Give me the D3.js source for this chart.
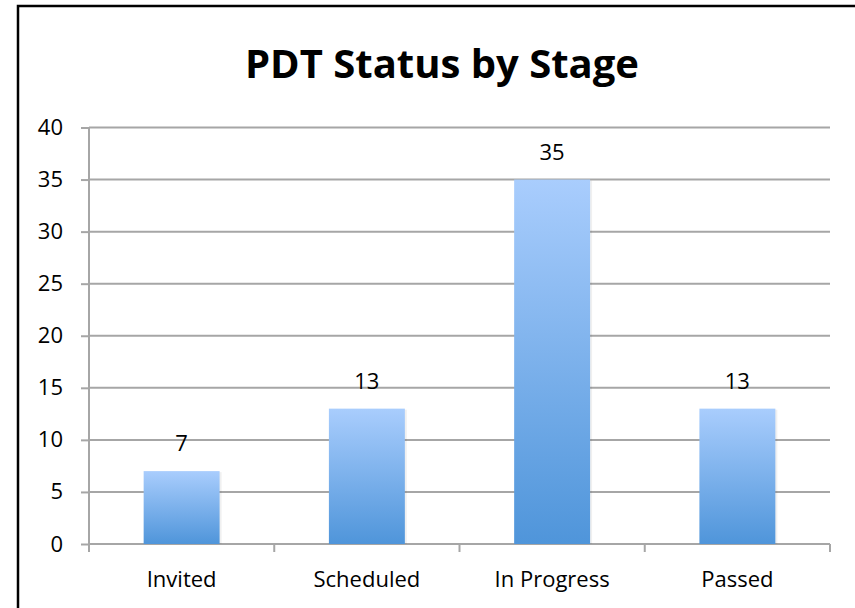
<!DOCTYPE html>
<html lang="en">
<head>
<meta charset="utf-8">
<title>PDT Status by Stage</title>
<script src="https://d3js.org/d3.v7.min.js"></script>
<style>
  body { margin: 0; background: #fff; }
  text { font-family: "Open Sans", sans-serif; fill: #000; }
  .grid line { stroke: #a6a6a6; stroke-width: 2px; }
  .axis path, .axis line { stroke: #a6a6a6; stroke-width: 2px; }
</style>
</head>
<body>
<div id="chart"></div>
<script>
// chart data
var stages = ["Invited", "Scheduled", "In Progress", "Passed"];
var counts = [7, 13, 35, 13];
var yTicks = [0, 5, 10, 15, 20, 25, 30, 35, 40];

var W = 855, H = 608;
var margin = {top: 127.5, right: 25, bottom: 64, left: 89};
var width = W - margin.left - margin.right,
    height = H - margin.top - margin.bottom;

var svg = d3.select("#chart").append("svg")
    .attr("width", W)
    .attr("height", H);

// gradient for the bars
var grad = svg.append("defs").append("linearGradient")
    .attr("id", "barGrad")
    .attr("x1", 0).attr("y1", 0).attr("x2", 0).attr("y2", 1);
grad.append("stop").attr("offset", "0%").attr("stop-color", "#a9cdfd");
grad.append("stop").attr("offset", "100%").attr("stop-color", "#4f95da");

// outer frame (only top and left show in the picture)
svg.append("path")
    .attr("d", "M" + W + ",6H18V" + H)
    .attr("fill", "none")
    .attr("stroke", "#000")
    .attr("stroke-width", 2.5);

svg.append("text")
    .attr("x", 442)
    .attr("y", 78)
    .attr("text-anchor", "middle")
    .style("font-size", "40px")
    .style("font-weight", "bold")
    .text("PDT Status by Stage");

var g = svg.append("g")
    .attr("transform", "translate(" + margin.left + "," + margin.top + ")");

var x = d3.scaleBand().domain(stages).range([0, width]).paddingInner(0.59).paddingOuter(0.295);
var y = d3.scaleLinear().domain([0, 40]).range([height, 0]);

// horizontal gridlines
g.append("g").attr("class", "grid")
  .selectAll("line")
  .data(yTicks.slice(1))
  .enter().append("line")
    .attr("x1", 0).attr("x2", width)
    .attr("y1", function(d) { return y(d); })
    .attr("y2", function(d) { return y(d); });

// y axis
var yAxis = g.append("g").attr("class", "axis")
    .call(d3.axisLeft(y).tickValues(yTicks).tickSize(8).tickPadding(18).tickSizeOuter(0));
yAxis.selectAll("text").style("font-size", "22px");
yAxis.select(".domain").attr("d", "M0," + height + "V0");

// x axis with ticks between categories
var xAxis = g.append("g").attr("class", "axis")
    .attr("transform", "translate(0," + height + ")")
    .call(d3.axisBottom(x).tickSize(0).tickPadding(27));
xAxis.select(".domain").attr("d", "M0,0H" + width);
xAxis.selectAll("text").style("font-size", "22px");

var bounds = d3.range(stages.length + 1).map(function(i) { return i * width / stages.length; });
xAxis.selectAll(".sep")
  .data(bounds)
  .enter().append("line")
    .attr("class", "sep")
    .attr("x1", function(d) { return d; }).attr("x2", function(d) { return d; })
    .attr("y1", 0).attr("y2", 8);

// bars
g.selectAll(".shadow")
  .data(counts)
  .enter().append("rect")
    .attr("x", function(d, i) { return x(stages[i]) + 2; })
    .attr("y", function(d) { return y(d) + 1; })
    .attr("width", x.bandwidth())
    .attr("height", function(d) { return height - y(d) - 1; })
    .attr("fill", "#000")
    .attr("opacity", 0.06);

g.selectAll(".bar")
  .data(counts)
  .enter().append("rect")
    .attr("class", "bar")
    .attr("x", function(d, i) { return x(stages[i]); })
    .attr("y", function(d) { return y(d); })
    .attr("width", x.bandwidth())
    .attr("height", function(d) { return height - y(d); })
    .attr("fill", "url(#barGrad)");

// value labels
g.selectAll(".val")
  .data(counts)
  .enter().append("text")
    .attr("class", "val")
    .attr("x", function(d, i) { return x(stages[i]) + x.bandwidth() / 2; })
    .attr("y", function(d) { return y(d) - 20; })
    .attr("text-anchor", "middle")
    .style("font-size", "22px")
    .text(function(d) { return d; });
</script>
</body>
</html>
